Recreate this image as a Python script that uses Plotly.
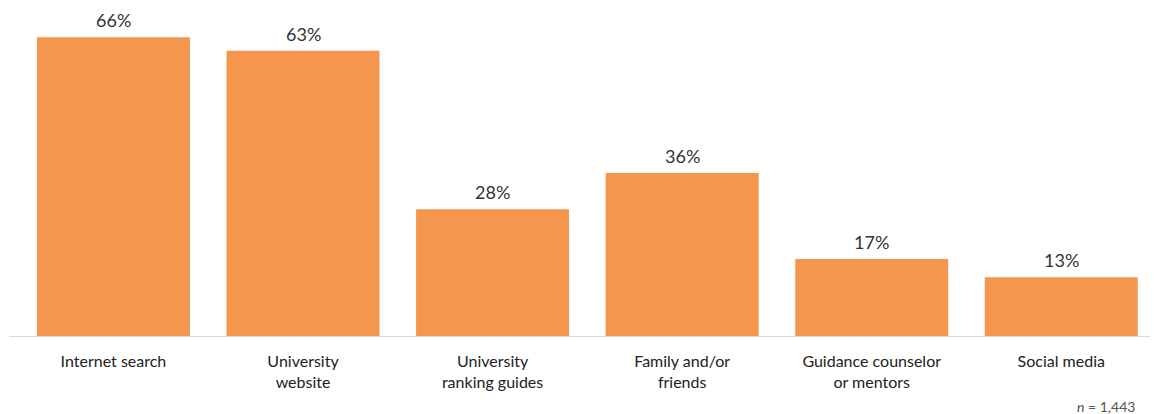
import plotly.graph_objects as go

categories = [
    "Internet search",
    "University<br>website",
    "University<br>ranking guides",
    "Family and/or<br>friends",
    "Guidance counselor<br>or mentors",
    "Social media",
]
shares = [66, 63, 28, 36, 17, 13]
sample_note = "<i>n</i> = 1,443"

BAR_COLOR = "#F5964F"
FONT = "Lato, 'Open Sans', sans-serif"

fig = go.Figure(
    go.Bar(
        x=list(range(len(categories))),
        y=shares,
        width=0.807,
        marker=dict(color=BAR_COLOR, line=dict(width=0)),
        cliponaxis=False,
        hoverinfo="skip",
    )
)

# value labels sitting just above each bar
value_labels = [
    dict(
        x=i,
        y=v,
        xref="x",
        yref="y",
        text=f"{v}%",
        showarrow=False,
        xanchor="center",
        yanchor="bottom",
        yshift=4,
        font=dict(family=FONT, size=18, color="#333333"),
    )
    for i, v in enumerate(shares)
]

fig.update_layout(
    width=1154,
    height=414,
    margin=dict(l=9, r=4, t=0, b=78),
    paper_bgcolor="white",
    plot_bgcolor="white",
    showlegend=False,
    font=dict(family=FONT, color="#222222"),
    xaxis=dict(
        tickmode="array",
        tickvals=list(range(len(categories))),
        ticktext=categories,
        range=[-0.551, 5.468],
        showline=True,
        linecolor="#d9d9d9",
        linewidth=1,
        showgrid=False,
        zeroline=False,
        ticks="",
        ticklabelstandoff=11,
        tickfont=dict(family=FONT, size=16, color="#222222"),
        fixedrange=True,
    ),
    yaxis=dict(
        range=[0, 74.2],
        visible=False,
        showgrid=False,
        zeroline=False,
        fixedrange=True,
    ),
    annotations=value_labels
    + [
        dict(
            text=sample_note,
            xref="paper",
            yref="paper",
            x=0.9886,
            y=-0.211,
            xanchor="right",
            yanchor="middle",
            showarrow=False,
            font=dict(family=FONT, size=14, color="#555555"),
        )
    ],
)

fig.write_html("out.html")
